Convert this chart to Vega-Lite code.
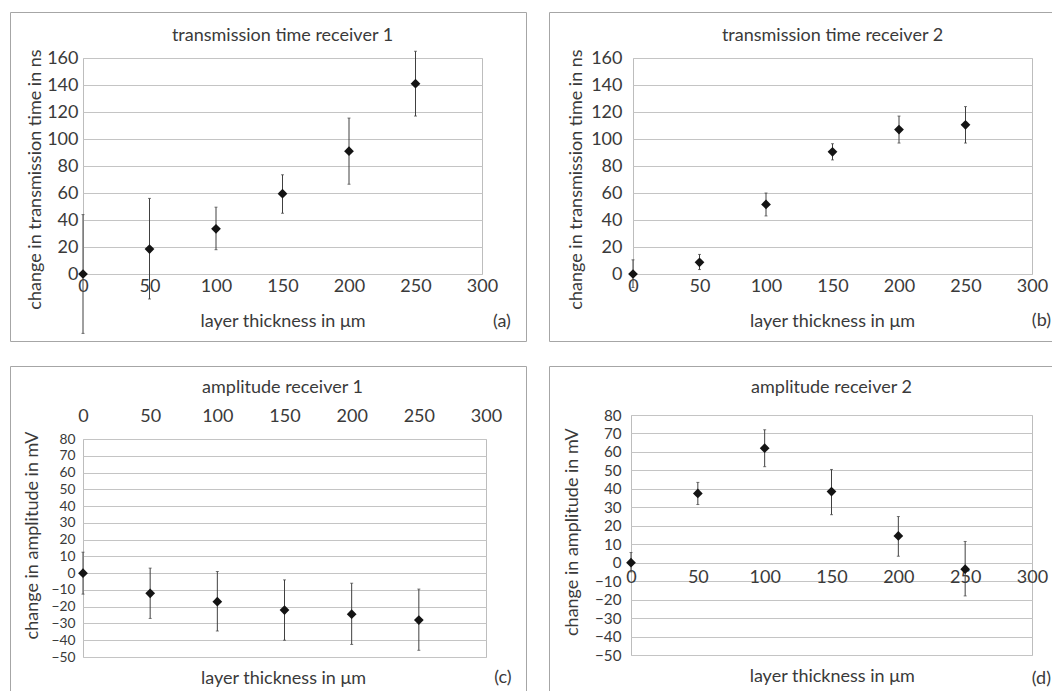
{
  "$schema": "https://vega.github.io/schema/vega-lite/v6.json",
  "padding": {"left": 9, "top": 11, "right": 0, "bottom": 0},
  "autosize": {"type": "pad"},
  "background": "white",
  "config": {
    "font": "Lato",
    "view": {"stroke": "#bdbdbd", "strokeWidth": 1},
    "axis": {
      "domain": false, "ticks": false, "tickSize": 0,
      "labelFont": "Lato", "labelFontSize": 18, "labelColor": "#3a3a3a",
      "titleFont": "Lato", "titleFontSize": 18, "titleFontWeight": "normal", "titleColor": "#3a3a3a",
      "gridColor": "#c4c4c4", "gridWidth": 1,
      "labelOverlap": false, "labelFlush": false
    },
    "text": {"font": "Lato"}
  },
  "datasets": {
    "tt1": [
      {"t": 0, "v": 0, "lo": -44, "hi": 44},
      {"t": 50, "v": 18.5, "lo": -18.5, "hi": 56},
      {"t": 100, "v": 33.5, "lo": 18, "hi": 49.5},
      {"t": 150, "v": 59.5, "lo": 45, "hi": 73.5},
      {"t": 200, "v": 91, "lo": 66.5, "hi": 115.5},
      {"t": 250, "v": 141, "lo": 117, "hi": 165}
    ],
    "tt2": [
      {"t": 0, "v": 0, "lo": -10, "hi": 10.5},
      {"t": 50, "v": 8.7, "lo": 3.3, "hi": 14.5},
      {"t": 100, "v": 51.5, "lo": 43, "hi": 60},
      {"t": 150, "v": 90.5, "lo": 84.5, "hi": 96.5},
      {"t": 200, "v": 107, "lo": 97, "hi": 117},
      {"t": 250, "v": 110.5, "lo": 97, "hi": 124}
    ],
    "am1": [
      {"t": 0, "v": 0, "lo": -12.5, "hi": 12.5},
      {"t": 50, "v": -12, "lo": -27, "hi": 3},
      {"t": 100, "v": -17, "lo": -34.5, "hi": 1},
      {"t": 150, "v": -22, "lo": -40, "hi": -4},
      {"t": 200, "v": -24.5, "lo": -42.5, "hi": -6},
      {"t": 250, "v": -28, "lo": -46, "hi": -9.5}
    ],
    "am2": [
      {"t": 0, "v": 0, "lo": -5, "hi": 5.5},
      {"t": 50, "v": 37.5, "lo": 31.5, "hi": 43.5},
      {"t": 100, "v": 62, "lo": 52, "hi": 72},
      {"t": 150, "v": 38.5, "lo": 26, "hi": 50.5},
      {"t": 200, "v": 14.5, "lo": 3.5, "hi": 25},
      {"t": 250, "v": -3.5, "lo": -18, "hi": 11.5}
    ]
  },
  "columns": 2,
  "align": "none",
  "bounds": "full",
  "spacing": {"row": 22, "column": 20},
  "concat": [
    {
      "width": 399, "height": 216,
      "data": {"name": "tt1"},
      "layer": [
        {"data": {"values": [{}]}, "mark": {"type": "rect", "fill": "transparent", "stroke": "#a6a6a6", "strokeWidth": 1},
          "encoding": {
            "x": {"datum": -54.51, "type": "quantitative", "scale": {"domain": [0, 300], "nice": false, "zero": false},
              "axis": {"orient": "bottom", "values": [0, 50, 100, 150, 200, 250, 300], "tickCount": 30, "grid": false, "title": "layer thickness in μm",
                "labelPadding": 3, "labelDx": 5, "titleX": 199.5, "titleY": 47, "titleBaseline": "middle", "titleAlign": "center"}},
            "x2": {"datum": 333.46},
            "y": {"datum": 193.7, "type": "quantitative", "scale": {"domain": [0, 160], "nice": false, "zero": false},
              "axis": {"values": [0, 20, 40, 60, 80, 100, 120, 140, 160], "tickCount": 30, "grid": true, "title": "change in transmission time in ns",
                "labelPadding": 5, "titleX": -47.5, "titleY": 121, "titleAngle": 270, "titleBaseline": "middle", "titleAlign": "center"}},
            "y2": {"datum": -50}}},
        {"mark": {"type": "rule", "color": "#404040", "strokeWidth": 1},
          "encoding": {"x": {"field": "t", "type": "quantitative"}, "y": {"field": "lo", "type": "quantitative"}, "y2": {"field": "hi"}}},
        {"mark": {"type": "tick", "orient": "horizontal", "size": 3, "thickness": 1, "color": "#404040"},
          "encoding": {"x": {"field": "t", "type": "quantitative"}, "y": {"field": "lo", "type": "quantitative"}}},
        {"mark": {"type": "tick", "orient": "horizontal", "size": 3, "thickness": 1, "color": "#404040"},
          "encoding": {"x": {"field": "t", "type": "quantitative"}, "y": {"field": "hi", "type": "quantitative"}}},
        {"mark": {"type": "point", "shape": "diamond", "filled": true, "size": 95, "color": "#141414", "opacity": 1},
          "encoding": {"x": {"field": "t", "type": "quantitative"}, "y": {"field": "v", "type": "quantitative"}}},
        {"data": {"values": [{}]}, "mark": {"type": "text", "text": "transmission time receiver 1", "align": "center", "baseline": "middle", "fontSize": 18, "color": "#3a3a3a"},
          "encoding": {"x": {"datum": 150}, "y": {"datum": 176.4}}},
        {"data": {"values": [{}]}, "mark": {"type": "text", "text": "(a)", "align": "center", "baseline": "middle", "fontSize": 18, "color": "#3a3a3a"},
          "encoding": {"x": {"datum": 315}, "y": {"datum": -35.6}}}
      ]
    },
    {
      "width": 399, "height": 216,
      "data": {"name": "tt2"},
      "layer": [
        {"data": {"values": [{}]}, "mark": {"type": "rule", "stroke": "#a6a6a6", "strokeWidth": 1},
          "encoding": {
            "x": {"datum": -62.78, "type": "quantitative", "scale": {"domain": [0, 300], "nice": false, "zero": false},
              "axis": {"orient": "bottom", "values": [0, 50, 100, 150, 200, 250, 300], "tickCount": 30, "grid": false, "title": "layer thickness in μm",
                "labelPadding": 3, "labelDx": 3, "titleX": 199, "titleY": 47, "titleBaseline": "middle", "titleAlign": "center"}},
            "y": {"datum": 193.7, "type": "quantitative", "scale": {"domain": [0, 160], "nice": false, "zero": false},
              "axis": {"values": [0, 20, 40, 60, 80, 100, 120, 140, 160], "tickCount": 30, "grid": true, "title": "change in transmission time in ns",
                "labelPadding": 11, "titleX": -56.7, "titleY": 121, "titleAngle": 270, "titleBaseline": "middle", "titleAlign": "center"}},
            "y2": {"datum": -50}}},
        {"data": {"values": [{}]}, "mark": {"type": "rule", "stroke": "#a6a6a6", "strokeWidth": 1},
          "encoding": {"x": {"datum": -62.78}, "x2": {"datum": 315.04}, "y": {"datum": 193.7}}},
        {"data": {"values": [{}]}, "mark": {"type": "rule", "stroke": "#a6a6a6", "strokeWidth": 1},
          "encoding": {"x": {"datum": -62.78}, "x2": {"datum": 315.04}, "y": {"datum": -50}}},
        {"mark": {"type": "rule", "color": "#404040", "strokeWidth": 1},
          "encoding": {"x": {"field": "t", "type": "quantitative"}, "y": {"field": "lo", "type": "quantitative"}, "y2": {"field": "hi"}}},
        {"mark": {"type": "tick", "orient": "horizontal", "size": 3, "thickness": 1, "color": "#404040"},
          "encoding": {"x": {"field": "t", "type": "quantitative"}, "y": {"field": "lo", "type": "quantitative"}}},
        {"mark": {"type": "tick", "orient": "horizontal", "size": 3, "thickness": 1, "color": "#404040"},
          "encoding": {"x": {"field": "t", "type": "quantitative"}, "y": {"field": "hi", "type": "quantitative"}}},
        {"mark": {"type": "point", "shape": "diamond", "filled": true, "size": 95, "color": "#141414", "opacity": 1},
          "encoding": {"x": {"field": "t", "type": "quantitative"}, "y": {"field": "v", "type": "quantitative"}}},
        {"data": {"values": [{}]}, "mark": {"type": "text", "text": "transmission time receiver 2", "align": "center", "baseline": "middle", "fontSize": 18, "color": "#3a3a3a"},
          "encoding": {"x": {"datum": 150}, "y": {"datum": 176}}},
        {"data": {"values": [{}]}, "mark": {"type": "text", "text": "(b)", "align": "right", "baseline": "middle", "fontSize": 18, "color": "#3a3a3a"},
          "encoding": {"x": {"datum": 314.3}, "y": {"datum": -35}}}
      ]
    },
    {
      "width": 403, "height": 218,
      "data": {"name": "am1"},
      "layer": [
        {"data": {"values": [{}]}, "mark": {"type": "rule", "stroke": "#a6a6a6", "strokeWidth": 1},
          "encoding": {
            "x": {"datum": -53.97, "type": "quantitative", "scale": {"domain": [0, 300], "nice": false, "zero": false},
              "axis": {"orient": "top", "values": [0, 50, 100, 150, 200, 250, 300], "tickCount": 30, "grid": false, "title": "layer thickness in μm",
                "labelPadding": 14, "labelDx": 4, "titleX": 200, "titleY": 239, "titleBaseline": "middle", "titleAlign": "center"}},
            "y": {"datum": 123.23, "type": "quantitative", "scale": {"domain": [-50, 80], "nice": false, "zero": false},
              "axis": {"values": [-50, -40, -30, -20, -10, 0, 10, 20, 30, 40, 50, 60, 70, 80], "tickCount": 30, "grid": true, "title": "change in amplitude in mV",
                "labelFontSize": 13.8, "labelPadding": 8, "titleX": -51, "titleY": 96, "titleAngle": 270, "titleBaseline": "middle", "titleAlign": "center"}},
            "y2": {"datum": -70.28}}},
        {"data": {"values": [{}]}, "mark": {"type": "rule", "stroke": "#a6a6a6", "strokeWidth": 1},
          "encoding": {"x": {"datum": -53.97}, "x2": {"datum": 330.15}, "y": {"datum": 123.23}}},
        {"data": {"values": [{}]}, "mark": {"type": "rule", "stroke": "#a6a6a6", "strokeWidth": 1},
          "encoding": {"x": {"datum": 330.15}, "y": {"datum": 123.23}, "y2": {"datum": -70.28}}},
        {"mark": {"type": "rule", "color": "#404040", "strokeWidth": 1},
          "encoding": {"x": {"field": "t", "type": "quantitative"}, "y": {"field": "lo", "type": "quantitative"}, "y2": {"field": "hi"}}},
        {"mark": {"type": "tick", "orient": "horizontal", "size": 3, "thickness": 1, "color": "#404040"},
          "encoding": {"x": {"field": "t", "type": "quantitative"}, "y": {"field": "lo", "type": "quantitative"}}},
        {"mark": {"type": "tick", "orient": "horizontal", "size": 3, "thickness": 1, "color": "#404040"},
          "encoding": {"x": {"field": "t", "type": "quantitative"}, "y": {"field": "hi", "type": "quantitative"}}},
        {"mark": {"type": "point", "shape": "diamond", "filled": true, "size": 95, "color": "#141414", "opacity": 1},
          "encoding": {"x": {"field": "t", "type": "quantitative"}, "y": {"field": "v", "type": "quantitative"}}},
        {"data": {"values": [{}]}, "mark": {"type": "text", "text": "amplitude receiver 1", "align": "center", "baseline": "middle", "fontSize": 18, "color": "#3a3a3a"},
          "encoding": {"x": {"datum": 148.5}, "y": {"datum": 110.4}}},
        {"data": {"values": [{}]}, "mark": {"type": "text", "text": "(c)", "align": "center", "baseline": "middle", "fontSize": 18, "color": "#3a3a3a"},
          "encoding": {"x": {"datum": 312.66}, "y": {"datum": -62.52}}}
      ]
    },
    {
      "width": 401, "height": 240,
      "data": {"name": "am2"},
      "layer": [
        {"data": {"values": [{}]}, "mark": {"type": "rule", "stroke": "#a6a6a6", "strokeWidth": 1},
          "encoding": {
            "x": {"datum": -60.97, "type": "quantitative", "scale": {"domain": [0, 300], "nice": false, "zero": false},
              "axis": {"orient": "bottom", "offset": -92.31, "values": [0, 50, 100, 150, 200, 250, 300], "tickCount": 30, "grid": false, "title": "layer thickness in μm",
                "labelPadding": 6, "labelDx": 3, "titleX": 200.7, "titleY": 114.3, "titleBaseline": "middle", "titleAlign": "center"}},
            "y": {"datum": 106.27, "type": "quantitative", "scale": {"domain": [-50, 80], "nice": false, "zero": false},
              "axis": {"values": [-50, -40, -30, -20, -10, 0, 10, 20, 30, 40, 50, 60, 70, 80], "tickCount": 30, "grid": true, "title": "change in amplitude in mV",
                "labelFontSize": 15.2, "labelPadding": 10, "titleX": -58.7, "titleY": 116.6, "titleAngle": 270, "titleBaseline": "middle", "titleAlign": "center"}},
            "y2": {"datum": -69.5}}},
        {"data": {"values": [{}]}, "mark": {"type": "rule", "stroke": "#a6a6a6", "strokeWidth": 1},
          "encoding": {"x": {"datum": -60.97}, "x2": {"datum": 314.96}, "y": {"datum": 106.27}}},
        {"mark": {"type": "rule", "color": "#404040", "strokeWidth": 1},
          "encoding": {"x": {"field": "t", "type": "quantitative"}, "y": {"field": "lo", "type": "quantitative"}, "y2": {"field": "hi"}}},
        {"mark": {"type": "tick", "orient": "horizontal", "size": 3, "thickness": 1, "color": "#404040"},
          "encoding": {"x": {"field": "t", "type": "quantitative"}, "y": {"field": "lo", "type": "quantitative"}}},
        {"mark": {"type": "tick", "orient": "horizontal", "size": 3, "thickness": 1, "color": "#404040"},
          "encoding": {"x": {"field": "t", "type": "quantitative"}, "y": {"field": "hi", "type": "quantitative"}}},
        {"mark": {"type": "point", "shape": "diamond", "filled": true, "size": 95, "color": "#141414", "opacity": 1},
          "encoding": {"x": {"field": "t", "type": "quantitative"}, "y": {"field": "v", "type": "quantitative"}}},
        {"data": {"values": [{}]}, "mark": {"type": "text", "text": "amplitude receiver 2", "align": "center", "baseline": "middle", "fontSize": 18, "color": "#3a3a3a"},
          "encoding": {"x": {"datum": 150}, "y": {"datum": 94.6}}},
        {"data": {"values": [{}]}, "mark": {"type": "text", "text": "(d)", "align": "right", "baseline": "middle", "fontSize": 18, "color": "#3a3a3a"},
          "encoding": {"x": {"datum": 314.2}, "y": {"datum": -63}}}
      ]
    }
  ]
}
